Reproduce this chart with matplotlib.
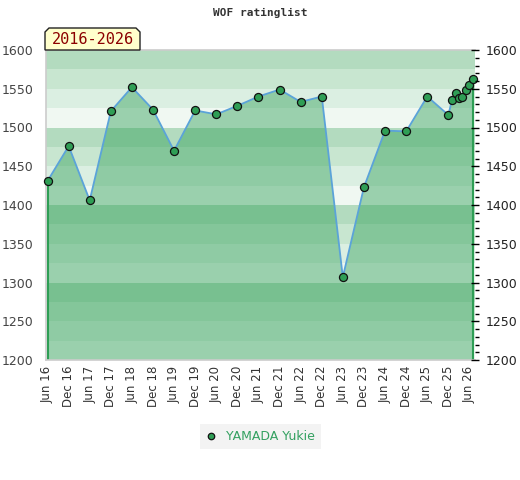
import numpy as np
import matplotlib
matplotlib.use("Agg")
import matplotlib.pyplot as plt
import matplotlib.dates as mdates
from matplotlib.patches import Polygon
from matplotlib.ticker import MultipleLocator
import datetime as dt

# ratings
dates = ["2016-06-01", "2016-12-01", "2017-06-01", "2017-12-01", "2018-06-01",
         "2018-12-01", "2019-06-01", "2019-12-01", "2020-06-01", "2020-12-01",
         "2021-06-01", "2021-12-01", "2022-06-01", "2022-12-01", "2023-06-01",
         "2023-12-01", "2024-06-01", "2024-12-01", "2025-06-01", "2025-12-01",
         "2026-01-01", "2026-02-08", "2026-03-01", "2026-04-01", "2026-05-01",
         "2026-06-01", "2026-07-01"]
ratings = [1431, 1476, 1406, 1521, 1552, 1523, 1470, 1522, 1517, 1528,
           1540, 1549, 1533, 1540, 1307, 1423, 1496, 1495, 1540, 1516,
           1536, 1544, 1538, 1539, 1548, 1555, 1562]
player = "YAMADA Yukie"
period = "2016-2026"
title = "WOF ratinglist"

x = [dt.datetime.strptime(d, "%Y-%m-%d") for d in dates]
band_cols = ["#f0f8f2", "#dbefe2", "#c8e6d0", "#b3dbbf"]

fig = plt.figure(figsize=(5.2, 4.8), dpi=100)
ax = fig.add_axes([45.7 / 520, 1 - 360 / 480, 428.8 / 520, 310 / 480])

# striped background, 25 points per band
for lo in range(1200, 1600, 25):
    ax.axhspan(lo, lo + 25, color=band_cols[(lo % 100) // 25], lw=0, zorder=0)

ax.fill_between(x, ratings, 1200, facecolor="#2e9e55", alpha=0.44, lw=0, zorder=1)
ax.plot([x[0], x[0]], [1200, ratings[0]], color="#2e9e55", lw=1.5, zorder=2)
ax.plot([x[-1], x[-1]], [1200, ratings[-1]], color="#2e9e55", lw=1.5, zorder=2)
ax.plot(x, ratings, color="#5ba3d9", lw=1.3, zorder=3)
ax.plot(x, ratings, ls="none", marker="o", ms=5.8, mfc="#2f9e55", mec="#111111",
        mew=0.9, zorder=4, label=player, clip_on=False)

ax.set_ylim(1200, 1600)
ax.set_xlim(dt.datetime(2016, 5, 16), dt.datetime(2026, 7, 15))

ticks = [dt.datetime(y, m, 1) for y in range(2016, 2027) for m in (6, 12)
         if not (y == 2026 and m == 12)]
ax.set_xticks(ticks)
ax.xaxis.set_major_formatter(mdates.DateFormatter("%b %y"))
ax.tick_params(axis="x", length=0, pad=4, labelsize=8.5, labelcolor="#333333",
               labelrotation=90)

ax.yaxis.set_major_locator(MultipleLocator(50))
ax.tick_params(axis="y", length=0, pad=9, labelsize=9, labelcolor="#444444")

for s in ("top", "left", "bottom"):
    ax.spines[s].set_color("#cccccc")
    ax.spines[s].set_linewidth(1.2)
ax.spines["right"].set_visible(False)

axr = ax.twinx()
axr.set_ylim(1200, 1600)
axr.yaxis.set_major_locator(MultipleLocator(50))
axr.yaxis.set_minor_locator(MultipleLocator(10))
axr.tick_params(axis="y", which="major", direction="inout", length=6, width=1,
                pad=5, labelsize=9, labelcolor="#222222")
axr.tick_params(axis="y", which="minor", direction="out", length=3, width=1)
for s in axr.spines.values():
    s.set_visible(False)

fig.text(0.5, 1 - 13 / 480, title, ha="center", va="center",
         family="DejaVu Sans Mono", weight="bold", fontsize=8, color="#333333")

# period label box with cut top corners
l, r, b, t, c = 45 / 520, 140 / 520, 1 - 50 / 480, 1 - 28 / 480, 4 / 520
ch = 4 / 480
box = Polygon([(l, b), (l, t - ch), (l + c, t), (r - c, t), (r, t - ch), (r, b)],
              closed=True, transform=fig.transFigure, facecolor="#ffffcc",
              edgecolor="#222222", lw=1, zorder=5)
fig.patches.append(box)
fig.text((l + r) / 2, (b + t) / 2 - 0.002, period, ha="center", va="center",
         family="DejaVu Sans Mono", fontsize=11, color="#8b0000", zorder=6)

leg = fig.legend(loc="center", bbox_to_anchor=(260.5 / 520, 1 - 436.5 / 480),
                 frameon=True, fancybox=False, fontsize=9, markerscale=0.8,
                 handlelength=0.8, handletextpad=0.8, borderpad=0.45)
leg.get_frame().set_facecolor("#f0f0f0")
leg.get_frame().set_edgecolor("none")
for txt in leg.get_texts():
    txt.set_color("#33a060")

fig.savefig("out.png", dpi=100)
